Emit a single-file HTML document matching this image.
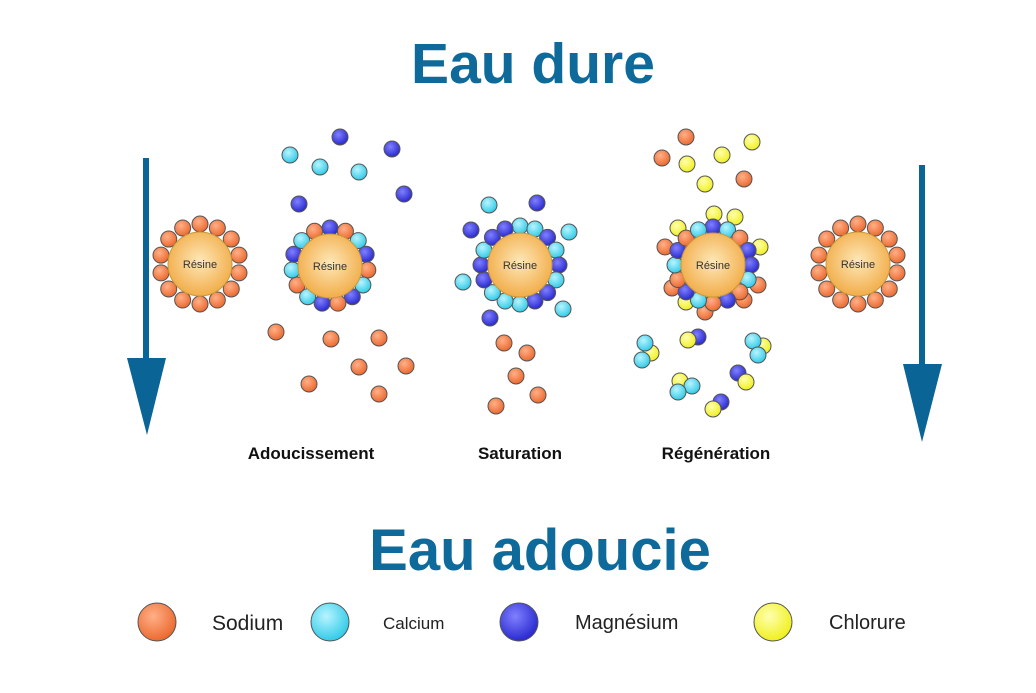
<!DOCTYPE html>
<html><head><meta charset="utf-8"><style>
html,body{margin:0;padding:0;background:#fff;width:1036px;height:693px;overflow:hidden}
svg{display:block}
.t{font-family:"Liberation Sans",sans-serif}
</style></head><body>
<svg id="s" width="1036" height="693" viewBox="0 0 1036 693" xmlns="http://www.w3.org/2000/svg">
<defs>
<radialGradient id="gO" cx="40%" cy="35%" r="65%"><stop offset="0" stop-color="#ffb088"/><stop offset="1" stop-color="#ec6a30"/></radialGradient>
<radialGradient id="gC" cx="40%" cy="35%" r="65%"><stop offset="0" stop-color="#b8f4ff"/><stop offset="1" stop-color="#33cbe8"/></radialGradient>
<radialGradient id="gB" cx="40%" cy="35%" r="65%"><stop offset="0" stop-color="#8080ff"/><stop offset="1" stop-color="#2a2ad0"/></radialGradient>
<radialGradient id="gY" cx="40%" cy="35%" r="65%"><stop offset="0" stop-color="#ffffb0"/><stop offset="1" stop-color="#f0f020"/></radialGradient>
<radialGradient id="gR" cx="50%" cy="45%" r="55%"><stop offset="0" stop-color="#fde8b8"/><stop offset="1" stop-color="#f2ad4a"/></radialGradient>
</defs>
<text class="t" x="533" y="83" text-anchor="middle" font-size="57" font-weight="bold" fill="#0e6a9a">Eau dure</text>
<text class="t" x="540" y="570" text-anchor="middle" font-size="58" font-weight="bold" fill="#0e6a9a">Eau adoucie</text>
<rect x="143" y="158" width="6" height="205" fill="#0b6496"/>
<polygon points="127,358 166,358 147,435" fill="#0b6496"/>
<rect x="919" y="165" width="6" height="205" fill="#0b6496"/>
<polygon points="903,364 942,364 922,442" fill="#0b6496"/>
<g id="g"></g>
<text class="t" x="311" y="459" text-anchor="middle" font-size="17" font-weight="bold" fill="#111">Adoucissement</text>
<text class="t" x="520" y="459" text-anchor="middle" font-size="17" font-weight="bold" fill="#111">Saturation</text>
<text class="t" x="716" y="459" text-anchor="middle" font-size="17" font-weight="bold" fill="#111">Régénération</text>
<text class="t" x="212" y="630" font-size="21" fill="#222">Sodium</text>
<text class="t" x="383" y="629" font-size="17" fill="#222">Calcium</text>
<text class="t" x="575" y="629" font-size="20" fill="#222">Magnésium</text>
<text class="t" x="829" y="629" font-size="20" fill="#222">Chlorure</text>
</svg>
<script>
var g=document.getElementById('g'),NS='http://www.w3.org/2000/svg';
var F={O:'url(#gO)',C:'url(#gC)',B:'url(#gB)',Y:'url(#gY)'};
function c(x,y,t,r){var e=document.createElementNS(NS,'circle');e.setAttribute('cx',x);e.setAttribute('cy',y);e.setAttribute('r',r||8);e.setAttribute('fill',F[t]);e.setAttribute('stroke','#555');e.setAttribute('stroke-width','1');g.appendChild(e);}
function ring(cx,cy,s,R){var n=s.length;for(var i=0;i<n;i++){var a=-Math.PI/2+i*2*Math.PI/n;c(cx+R*Math.cos(a),cy+R*Math.sin(a),s[i]);}}
function core(cx,cy){var e=document.createElementNS(NS,'circle');e.setAttribute('cx',cx);e.setAttribute('cy',cy);e.setAttribute('r',32);e.setAttribute('fill','url(#gR)');e.setAttribute('stroke','#c8983a');g.appendChild(e);
var t=document.createElementNS(NS,'text');t.setAttribute('x',cx);t.setAttribute('y',cy+4);t.setAttribute('text-anchor','middle');t.setAttribute('font-size','11');t.setAttribute('font-family','Liberation Sans,sans-serif');t.setAttribute('fill','#333');t.textContent='Résine';g.appendChild(t);}
ring(200,264,'OOOOOOOOOOOOOO',40);core(200,264);
ring(330,266,'BOCBOCBOBCOCBCO',38);core(330,266);
var e3=[[471,230,'B'],[569,232,'C'],[463,282,'C'],[563,309,'C'],[490,318,'B'],[489,205,'C'],[537,203,'B']];
e3.forEach(function(p){c(p[0],p[1],p[2]);});
ring(520,265,'CCBCBCBBCCCBBCBB',39);core(520,265);
[[714,214,'Y'],[735,217,'Y'],[678,228,'Y'],[760,247,'Y'],[665,247,'O'],[672,288,'O'],[758,285,'O'],[686,302,'Y'],[705,312,'O'],[744,300,'O']].forEach(function(p){c(p[0],p[1],p[2]);});
ring(713,265,'BCOBBCOBOCBOCBOC',38);core(713,265);
ring(858,264,'OOOOOOOOOOOOOO',40);core(858,264);
[[290,155,'C'],[320,167,'C'],[359,172,'C'],[340,137,'B'],[392,149,'B'],[404,194,'B'],[299,204,'B'],
[276,332,'O'],[331,339,'O'],[379,338,'O'],[359,367,'O'],[406,366,'O'],[309,384,'O'],[379,394,'O'],
[504,343,'O'],[527,353,'O'],[516,376,'O'],[538,395,'O'],[496,406,'O'],
[686,137,'O'],[662,158,'O'],[744,179,'O'],[752,142,'Y'],[687,164,'Y'],[722,155,'Y'],[705,184,'Y'],
[651,353,'Y'],[645,343,'C'],[642,360,'C'],
[698,337,'B'],[688,340,'Y'],
[763,346,'Y'],[753,341,'C'],[758,355,'C'],
[680,381,'Y'],[692,386,'C'],[678,392,'C'],
[738,373,'B'],[746,382,'Y'],
[721,402,'B'],[713,409,'Y']].forEach(function(p){c(p[0],p[1],p[2]);});
c(157,622,'O',19);c(330,622,'C',19);c(519,622,'B',19);c(773,622,'Y',19);
</script>
</body></html>
